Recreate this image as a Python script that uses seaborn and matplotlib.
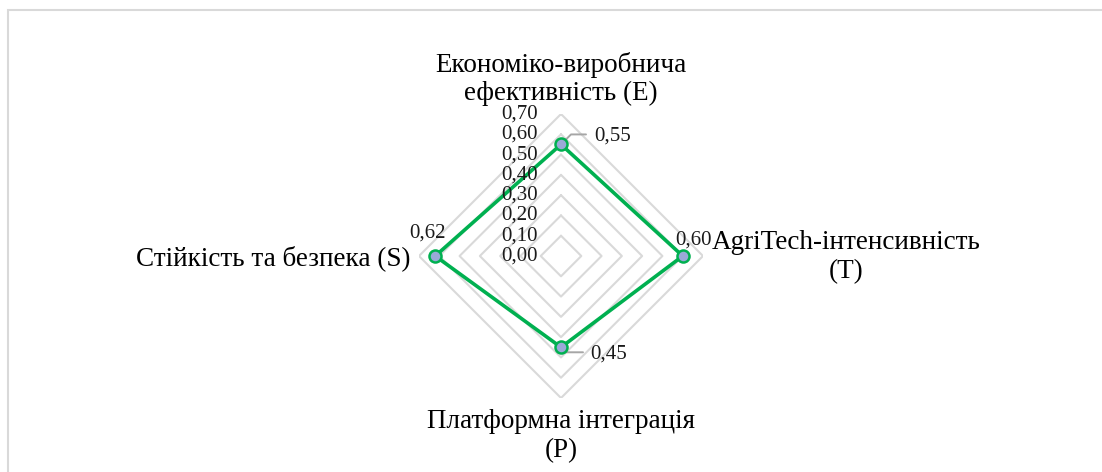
import numpy as np
import pandas as pd
import seaborn as sns
import matplotlib
matplotlib.use("Agg")
import matplotlib.pyplot as plt
from matplotlib.patches import Rectangle

# дані
categories = ["Економіко-виробнича\nефективність (E)", "AgriTech-інтенсивність\n(T)",
              "Платформна інтеграція\n(P)", "Стійкість та безпека (S)"]
values = [0.55, 0.60, 0.45, 0.62]
value_labels = ["0,55", "0,60", "0,45", "0,62"]
levels = [0.1, 0.2, 0.3, 0.4, 0.5, 0.6, 0.7]
tick_values = [0.0, 0.1, 0.2, 0.3, 0.4, 0.5, 0.6, 0.7]
tick_labels = ["0,00", "0,10", "0,20", "0,30", "0,40", "0,50", "0,60", "0,70"]

sns.set_style("white")
plt.rcParams['font.family'] = ['Liberation Serif', 'DejaVu Serif']

fig = plt.figure(figsize=(11.02, 4.72), dpi=100)
W, H = 1102, 472
cx, cy, R = 561, 256, 142
PT = 72 / 100  # px -> pt
ax = fig.add_axes([(cx - R) / W, (H - cy - R) / H, 2 * R / W, 2 * R / H], projection="polar")
ax.set_theta_zero_location("N")
ax.set_theta_direction(-1)
ax.set_ylim(0, 0.7)
ax.grid(False)
ax.spines["polar"].set_visible(False)
ax.set_xticks([])
ax.set_yticks([])
ax.patch.set_alpha(0)

theta = np.arange(len(categories)) * 2 * np.pi / len(categories)
th_closed = np.append(theta, theta[0])

# ромбічна сітка
for lv in levels:
    ax.plot(th_closed, [lv] * len(th_closed), color="#d9d9d9", lw=1.5, zorder=1)

df = pd.DataFrame({"theta": th_closed, "value": values + values[:1]})
sns.lineplot(data=df, x="theta", y="value", sort=False, ax=ax, color="#00b050",
             lw=2.6, zorder=3, estimator=None)
sns.scatterplot(x=theta, y=values, ax=ax, s=75, color="#9aa9d8", edgecolor="#00b050",
                linewidth=1.8, zorder=4)
ax.set_xlabel("")
ax.set_ylabel("")
ax.set_ylim(0, 0.7)

# підписи шкали
for tv, tl in zip(tick_values, tick_labels):
    ax.annotate(tl, xy=(0, tv), xytext=(-23 * PT, 0), textcoords="offset points",
                ha="right", va="center", fontsize=15, color="#1a1a1a")

# підписи значень (зсув у пікселях)
offsets = [(33, 8), (-7, 16), (29, -7), (-8, 23)]
aligns = ["left", "left", "left", "center"]
for t, v, lab, off, al in zip(theta, values, value_labels, offsets, aligns):
    ax.annotate(lab, xy=(t, v), xytext=(off[0] * PT, off[1] * PT), textcoords="offset points",
                ha=al, va="center", fontsize=15, color="#1a1a1a")
# виносні лінії
ax.annotate("", xy=(theta[0], values[0]), xytext=(25 * PT, 10 * PT), textcoords="offset points",
            arrowprops=dict(arrowstyle="-", color="#a6a6a6", lw=1.4,
                            connectionstyle="angle,angleA=0,angleB=45,rad=0", shrinkA=0, shrinkB=4))
ax.annotate("", xy=(theta[2], values[2]), xytext=(22 * PT, -5 * PT), textcoords="offset points",
            arrowprops=dict(arrowstyle="-", color="#a6a6a6", lw=1.4,
                            connectionstyle="angle,angleA=0,angleB=-45,rad=0", shrinkA=0, shrinkB=4))

# назви осей
fs = 19.5
fig.text(561 / W, 1 - 79 / H, categories[0], ha="center", va="center", fontsize=fs,
         linespacing=1.2, color="#000000")
fig.text(846 / W, 1 - 257 / H, categories[1], ha="center", va="center", fontsize=fs,
         linespacing=1.2, color="#000000")
fig.text(561 / W, 1 - 436 / H, categories[2], ha="center", va="center", fontsize=fs,
         linespacing=1.2, color="#000000")
fig.text(410 / W, 1 - 258 / H, categories[3], ha="right", va="center", fontsize=fs,
         color="#000000")

# рамка
fig.patches.append(Rectangle((8 / W, -0.1), 1.2, 1 - 10 / H + 0.1, transform=fig.transFigure,
                             fill=False, edgecolor="#d9d9d9", lw=1.5))

fig.savefig("out.png", dpi=100)
